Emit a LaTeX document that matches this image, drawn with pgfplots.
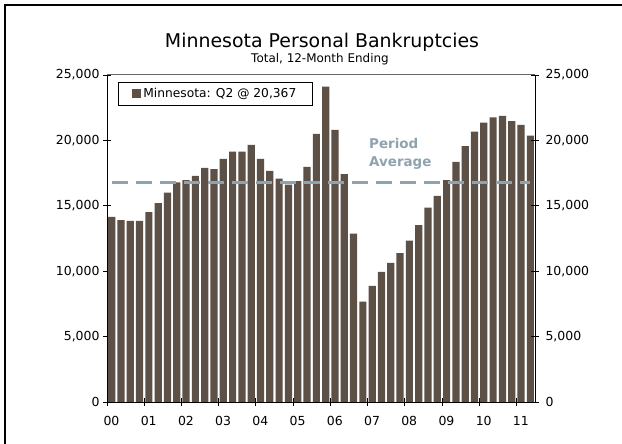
\documentclass[border=0pt]{standalone}
\usepackage{fontspec}
\setmainfont{DejaVu Sans}
\usepackage{pgfplots}
\pgfplotsset{compat=1.18}
\usepackage{pgfplotstable}
\definecolor{barc}{HTML}{5D5046}
\definecolor{avgc}{HTML}{8FA3AF}
\pgfplotstableread{
x y
0 14150
1 13900
2 13850
3 13850
4 14520
5 15210
6 16000
7 16790
8 16970
9 17280
10 17890
11 17810
12 18580
13 19140
14 19140
15 19650
16 18580
17 17660
18 17070
19 16610
20 16890
21 17970
22 20490
23 24110
24 20800
25 17430
26 12870
27 7670
28 8870
29 9940
30 10630
31 11390
32 12330
33 13530
34 14860
35 15750
36 16970
37 18350
38 19570
39 20670
40 21360
41 21760
42 21870
43 21480
44 21180
45 20367
}\datatable
\begin{document}
\begin{tikzpicture}[x=1bp,y=1bp]
\useasboundingbox (0,0) rectangle (622,444);
\draw[line width=2.5bp] (5,0) -- (5,439) -- (622,439);
\node[font=\fontsize{19}{22}\selectfont, anchor=base] at (322,396) {Minnesota Personal Bankruptcies};
\node[font=\fontsize{12}{14}\selectfont, anchor=base] at (320,381) {Total, 12-Month Ending};
\begin{axis}[
  at={(107bp,42bp)}, anchor=south west,
  scale only axis, width=428bp, height=327bp,
  xmin=-0.5, xmax=45.5, ymin=0, ymax=25000,
  axis x line*=bottom, axis y line*=left,
  axis line style={-, black, line width=0.8bp},
  tick align=center, major tick length=8bp,
  tick style={black, line width=0.8bp},
  xtick={-0.5,3.5,...,43.5},
  xticklabels={00,01,02,03,04,05,06,07,08,09,10,11},
  xticklabel style={xshift=4.5bp, yshift=-7bp},
  ytick={0,5000,...,25000},
  tick label style={font=\fontsize{12.5}{14}\selectfont},
  /pgf/number format/assume math mode=true,
  yticklabel style={/pgf/number format/.cd, 1000 sep={,}},
  scaled y ticks=false,
  clip=false,
  legend style={at={(rel axis cs:0.0257,0.9786)}, anchor=north west,
    draw=black, line width=0.8bp, inner xsep=14bp, inner ysep=4bp,
    font=\fontsize{12.3}{14}\selectfont,
    /tikz/every even column/.append style={column sep=1bp}},
  legend image code/.code={\fill[barc] (0bp,-4.5bp) rectangle (9bp,4.5bp);},
]
\addplot[ybar, bar width=7.2bp, fill=barc, draw=none] table[x=x,y=y]{\datatable};
\addlegendentry{Minnesota: Q2 @ 20,367}
\addplot[forget plot, avgc, line width=3bp, dash pattern=on 16bp off 8bp] coordinates {(0,16780) (45,16780)};
\draw[black!60, line width=1bp] (rel axis cs:0,1) -- (rel axis cs:1,1);
\node[anchor=west, align=left, text=avgc, font=\bfseries\fontsize{13.5}{18}\selectfont] at (axis cs:27.3,18960) {Period\\Average};
\end{axis}
\begin{axis}[
  at={(107bp,42bp)}, anchor=south west,
  scale only axis, width=428bp, height=327bp,
  xmin=-0.5, xmax=45.5, ymin=0, ymax=25000,
  axis x line=none, axis y line*=right,
  axis line style={-, black, line width=0.8bp},
  tick align=center, major tick length=8bp,
  tick style={black, line width=0.8bp},
  ytick={0,5000,...,25000},
  tick label style={font=\fontsize{12.5}{14}\selectfont},
  /pgf/number format/assume math mode=true,
  yticklabel style={/pgf/number format/.cd, 1000 sep={,}, /tikz/xshift=3bp},
  scaled y ticks=false,
]
\addplot[draw=none] coordinates {(0,0)};
\end{axis}
\end{tikzpicture}
\end{document}
